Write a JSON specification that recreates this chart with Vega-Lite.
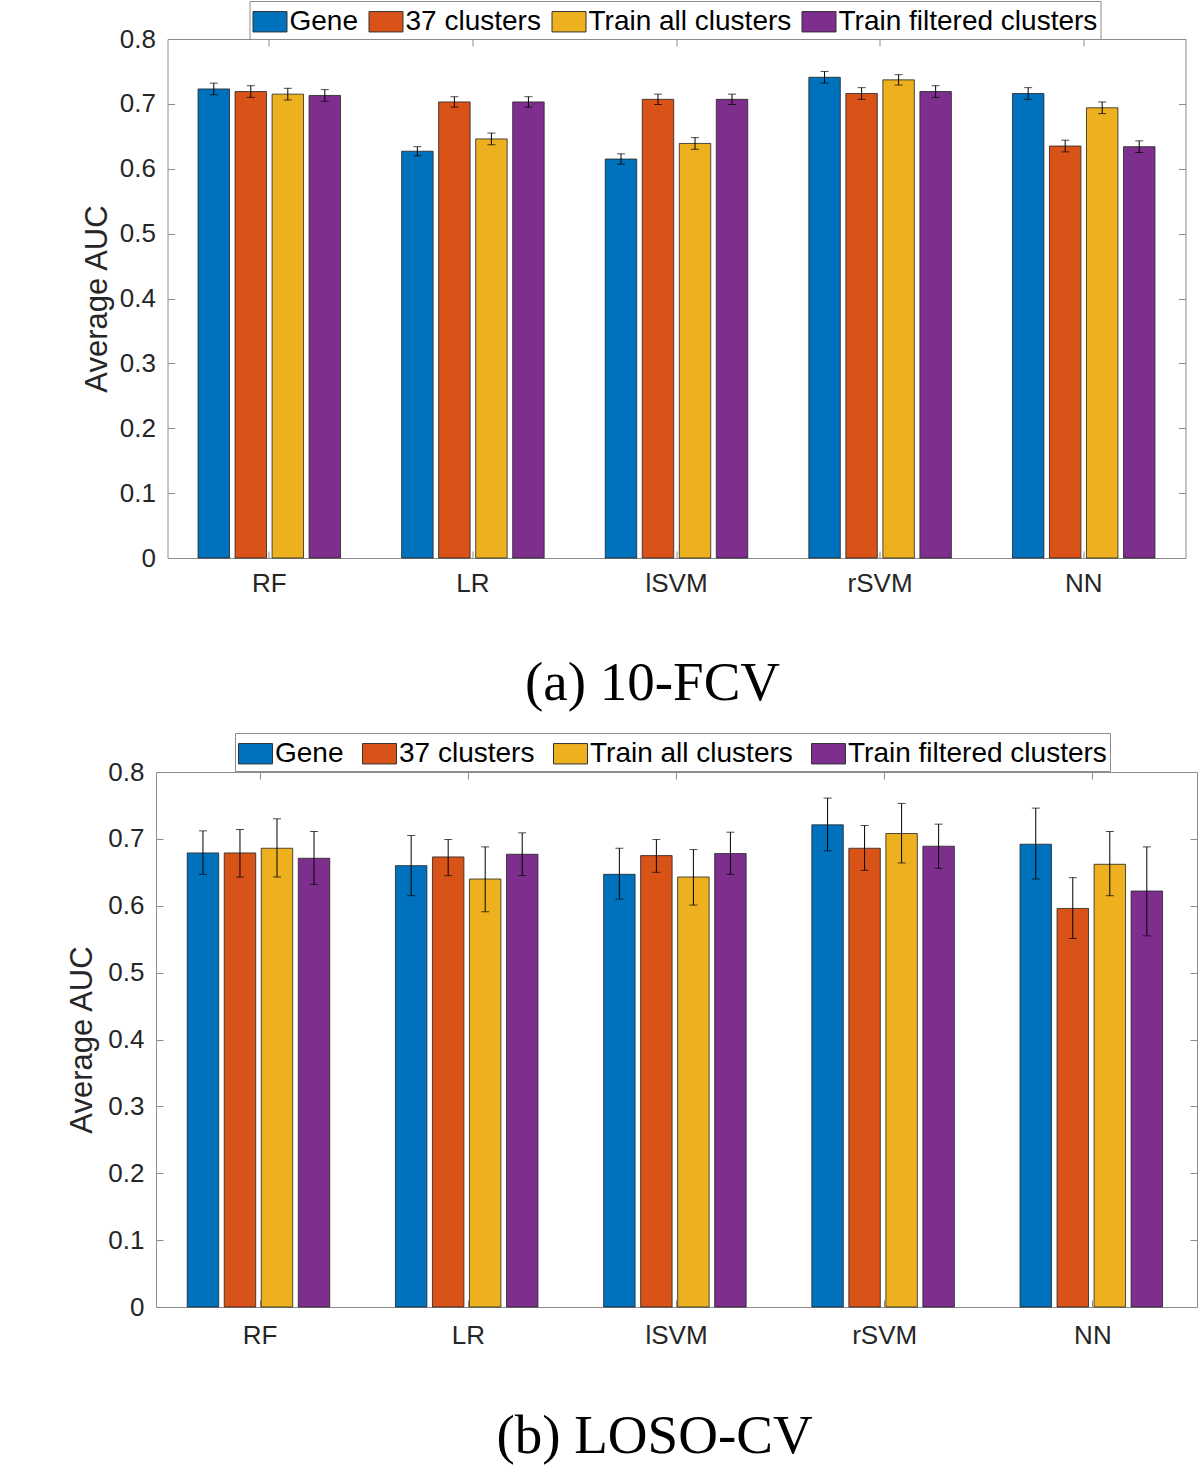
{
  "$schema": "https://vega.github.io/schema/vega-lite/v6.json",
  "padding": {"left": 66, "top": 0, "right": 0, "bottom": 0},
  "background": "white",
  "center": true,
  "spacing": 20,
  "resolve": {"scale": {"color": "independent"}, "legend": {"color": "independent"}},
  "datasets": {
    "fcv": [
      {"model": "RF", "method": "Gene", "auc": 0.723, "lo": 0.714, "hi": 0.732},
      {"model": "RF", "method": "37 clusters", "auc": 0.719, "lo": 0.710, "hi": 0.728},
      {"model": "RF", "method": "Train all clusters", "auc": 0.715, "lo": 0.706, "hi": 0.724},
      {"model": "RF", "method": "Train filtered clusters", "auc": 0.713, "lo": 0.704, "hi": 0.722},
      {"model": "LR", "method": "Gene", "auc": 0.627, "lo": 0.620, "hi": 0.634},
      {"model": "LR", "method": "37 clusters", "auc": 0.703, "lo": 0.695, "hi": 0.711},
      {"model": "LR", "method": "Train all clusters", "auc": 0.646, "lo": 0.637, "hi": 0.655},
      {"model": "LR", "method": "Train filtered clusters", "auc": 0.703, "lo": 0.695, "hi": 0.711},
      {"model": "lSVM", "method": "Gene", "auc": 0.615, "lo": 0.607, "hi": 0.623},
      {"model": "lSVM", "method": "37 clusters", "auc": 0.707, "lo": 0.699, "hi": 0.715},
      {"model": "lSVM", "method": "Train all clusters", "auc": 0.639, "lo": 0.630, "hi": 0.648},
      {"model": "lSVM", "method": "Train filtered clusters", "auc": 0.707, "lo": 0.699, "hi": 0.715},
      {"model": "rSVM", "method": "Gene", "auc": 0.741, "lo": 0.732, "hi": 0.750},
      {"model": "rSVM", "method": "37 clusters", "auc": 0.716, "lo": 0.707, "hi": 0.725},
      {"model": "rSVM", "method": "Train all clusters", "auc": 0.737, "lo": 0.729, "hi": 0.745},
      {"model": "rSVM", "method": "Train filtered clusters", "auc": 0.719, "lo": 0.710, "hi": 0.728},
      {"model": "NN", "method": "Gene", "auc": 0.716, "lo": 0.707, "hi": 0.725},
      {"model": "NN", "method": "37 clusters", "auc": 0.635, "lo": 0.626, "hi": 0.644},
      {"model": "NN", "method": "Train all clusters", "auc": 0.694, "lo": 0.685, "hi": 0.703},
      {"model": "NN", "method": "Train filtered clusters", "auc": 0.634, "lo": 0.625, "hi": 0.643}
    ],
    "loso": [
      {"model": "RF", "method": "Gene", "auc": 0.679, "lo": 0.647, "hi": 0.712},
      {"model": "RF", "method": "37 clusters", "auc": 0.679, "lo": 0.643, "hi": 0.714},
      {"model": "RF", "method": "Train all clusters", "auc": 0.686, "lo": 0.643, "hi": 0.730},
      {"model": "RF", "method": "Train filtered clusters", "auc": 0.671, "lo": 0.632, "hi": 0.711},
      {"model": "LR", "method": "Gene", "auc": 0.660, "lo": 0.615, "hi": 0.705},
      {"model": "LR", "method": "37 clusters", "auc": 0.673, "lo": 0.645, "hi": 0.699},
      {"model": "LR", "method": "Train all clusters", "auc": 0.640, "lo": 0.591, "hi": 0.688},
      {"model": "LR", "method": "Train filtered clusters", "auc": 0.677, "lo": 0.645, "hi": 0.709},
      {"model": "lSVM", "method": "Gene", "auc": 0.647, "lo": 0.610, "hi": 0.686},
      {"model": "lSVM", "method": "37 clusters", "auc": 0.675, "lo": 0.650, "hi": 0.699},
      {"model": "lSVM", "method": "Train all clusters", "auc": 0.643, "lo": 0.601, "hi": 0.684},
      {"model": "lSVM", "method": "Train filtered clusters", "auc": 0.678, "lo": 0.647, "hi": 0.710},
      {"model": "rSVM", "method": "Gene", "auc": 0.721, "lo": 0.682, "hi": 0.761},
      {"model": "rSVM", "method": "37 clusters", "auc": 0.686, "lo": 0.653, "hi": 0.720},
      {"model": "rSVM", "method": "Train all clusters", "auc": 0.708, "lo": 0.664, "hi": 0.753},
      {"model": "rSVM", "method": "Train filtered clusters", "auc": 0.689, "lo": 0.656, "hi": 0.722},
      {"model": "NN", "method": "Gene", "auc": 0.692, "lo": 0.640, "hi": 0.746},
      {"model": "NN", "method": "37 clusters", "auc": 0.596, "lo": 0.551, "hi": 0.642},
      {"model": "NN", "method": "Train all clusters", "auc": 0.662, "lo": 0.615, "hi": 0.711},
      {"model": "NN", "method": "Train filtered clusters", "auc": 0.622, "lo": 0.555, "hi": 0.688}
    ]
  },
  "config": {
    "font": "Liberation Sans",
    "view": {"stroke": "#8c8c8c", "strokeWidth": 1},
    "axis": {
      "labelFont": "Liberation Sans", "labelFontSize": 26, "labelColor": "#262626",
      "titleFont": "Liberation Sans", "titleFontSize": 31, "titleFontWeight": "normal", "titleColor": "#262626",
      "domain": false, "grid": false, "tickColor": "#8c8c8c", "tickSize": -7, "tickWidth": 1
    },
    "legend": {
      "orient": "none", "direction": "horizontal", "columns": 4,
      "labelFont": "Liberation Sans", "labelFontSize": 28, "labelColor": "#000",
      "labelLimit": 400, "labelOffset": 2, "columnPadding": 8,
      "symbolType": "M-1,-0.6H1V0.6H-1Z", "symbolSize": 1156,
      "symbolStrokeColor": "#333", "symbolStrokeWidth": 1, "symbolOpacity": 1,
      "padding": 3, "strokeColor": "#8c8c8c", "fillColor": "white"
    },
    "title": {"font": "Liberation Serif", "fontSize": 55, "fontWeight": "normal", "color": "#000", "orient": "bottom", "anchor": "middle"}
  },
  "vconcat": [
    {
      "width": 1018, "height": 519,
      "data": {"name": "fcv"},
      "title": {"text": "(a) 10-FCV", "offset": 61, "dx": -24},
      "layer": [
        {
          "mark": {"type": "bar", "stroke": "#222", "strokeWidth": 0.8},
          "encoding": {
            "x": {"field": "model", "type": "nominal", "sort": ["RF", "LR", "lSVM", "rSVM", "NN"], "scale": {"paddingInner": 0.3, "paddingOuter": 0.15}, "axis": {"title": null, "labelAngle": 0, "labelPadding": 19, "orient": "bottom"}},
            "xOffset": {"field": "method", "type": "nominal", "sort": ["Gene", "37 clusters", "Train all clusters", "Train filtered clusters"], "scale": {"paddingInner": 0.15, "paddingOuter": 0}},
            "y": {"field": "auc", "type": "quantitative", "scale": {"domain": [0, 0.8], "nice": false}, "axis": {"title": "Average AUC", "values": [0, 0.1, 0.2, 0.3, 0.4, 0.5, 0.6, 0.7, 0.8], "labelExpr": "datum.value == 0 ? '0' : format(datum.value, '.1f')", "labelPadding": 19, "titlePadding": 6}},
            "color": {"field": "method", "type": "nominal", "sort": ["Gene", "37 clusters", "Train all clusters", "Train filtered clusters"], "scale": {"domain": ["Gene", "37 clusters", "Train all clusters", "Train filtered clusters"], "range": ["#0072BD", "#D95319", "#EDB120", "#7E2F8E"]}, "legend": {"title": null, "legendX": 82, "legendY": -38}}
          }
        },
        {
          "mark": {"type": "rule", "color": "#000", "strokeWidth": 1},
          "encoding": {
            "x": {"field": "model", "type": "nominal", "sort": ["RF", "LR", "lSVM", "rSVM", "NN"], "axis": {"orient": "top", "labels": false, "title": null}},
            "xOffset": {"field": "method", "type": "nominal", "sort": ["Gene", "37 clusters", "Train all clusters", "Train filtered clusters"]},
            "y": {"field": "lo", "type": "quantitative", "axis": {"orient": "right", "labels": false, "title": null, "values": [0, 0.1, 0.2, 0.3, 0.4, 0.5, 0.6, 0.7, 0.8]}},
            "y2": {"field": "hi"}
          }
        },
        {
          "mark": {"type": "tick", "color": "#000", "size": 8, "thickness": 1},
          "encoding": {
            "x": {"field": "model", "type": "nominal", "sort": ["RF", "LR", "lSVM", "rSVM", "NN"], "axis": null},
            "xOffset": {"field": "method", "type": "nominal", "sort": ["Gene", "37 clusters", "Train all clusters", "Train filtered clusters"]},
            "y": {"field": "lo", "type": "quantitative", "axis": null}
          }
        },
        {
          "mark": {"type": "tick", "color": "#000", "size": 8, "thickness": 1},
          "encoding": {
            "x": {"field": "model", "type": "nominal", "sort": ["RF", "LR", "lSVM", "rSVM", "NN"], "axis": null},
            "xOffset": {"field": "method", "type": "nominal", "sort": ["Gene", "37 clusters", "Train all clusters", "Train filtered clusters"]},
            "y": {"field": "hi", "type": "quantitative", "axis": null}
          }
        }
      ],
      "resolve": {"axis": {"x": "independent", "y": "independent"}}
    },
    {
      "width": 1041, "height": 535,
      "data": {"name": "loso"},
      "title": {"text": "(b) LOSO-CV", "offset": 62, "dx": -22},
      "layer": [
        {
          "mark": {"type": "bar", "stroke": "#222", "strokeWidth": 0.8},
          "encoding": {
            "x": {"field": "model", "type": "nominal", "sort": ["RF", "LR", "lSVM", "rSVM", "NN"], "scale": {"paddingInner": 0.3, "paddingOuter": 0.15}, "axis": {"title": null, "labelAngle": 0, "labelPadding": 22, "orient": "bottom"}},
            "xOffset": {"field": "method", "type": "nominal", "sort": ["Gene", "37 clusters", "Train all clusters", "Train filtered clusters"], "scale": {"paddingInner": 0.15, "paddingOuter": 0}},
            "y": {"field": "auc", "type": "quantitative", "scale": {"domain": [0, 0.8], "nice": false}, "axis": {"title": "Average AUC", "values": [0, 0.1, 0.2, 0.3, 0.4, 0.5, 0.6, 0.7, 0.8], "labelExpr": "datum.value == 0 ? '0' : format(datum.value, '.1f')", "labelPadding": 19, "titlePadding": 9}},
            "color": {"field": "method", "type": "nominal", "sort": ["Gene", "37 clusters", "Train all clusters", "Train filtered clusters"], "scale": {"domain": ["Gene", "37 clusters", "Train all clusters", "Train filtered clusters"], "range": ["#0072BD", "#D95319", "#EDB120", "#7E2F8E"]}, "legend": {"title": null, "legendX": 79, "legendY": -39, "columnPadding": 16}}
          }
        },
        {
          "mark": {"type": "rule", "color": "#000", "strokeWidth": 1},
          "encoding": {
            "x": {"field": "model", "type": "nominal", "sort": ["RF", "LR", "lSVM", "rSVM", "NN"], "axis": {"orient": "top", "labels": false, "title": null}},
            "xOffset": {"field": "method", "type": "nominal", "sort": ["Gene", "37 clusters", "Train all clusters", "Train filtered clusters"]},
            "y": {"field": "lo", "type": "quantitative", "axis": {"orient": "right", "labels": false, "title": null, "values": [0, 0.1, 0.2, 0.3, 0.4, 0.5, 0.6, 0.7, 0.8]}},
            "y2": {"field": "hi"}
          }
        },
        {
          "mark": {"type": "tick", "color": "#000", "size": 8, "thickness": 1},
          "encoding": {
            "x": {"field": "model", "type": "nominal", "sort": ["RF", "LR", "lSVM", "rSVM", "NN"], "axis": null},
            "xOffset": {"field": "method", "type": "nominal", "sort": ["Gene", "37 clusters", "Train all clusters", "Train filtered clusters"]},
            "y": {"field": "lo", "type": "quantitative", "axis": null}
          }
        },
        {
          "mark": {"type": "tick", "color": "#000", "size": 8, "thickness": 1},
          "encoding": {
            "x": {"field": "model", "type": "nominal", "sort": ["RF", "LR", "lSVM", "rSVM", "NN"], "axis": null},
            "xOffset": {"field": "method", "type": "nominal", "sort": ["Gene", "37 clusters", "Train all clusters", "Train filtered clusters"]},
            "y": {"field": "hi", "type": "quantitative", "axis": null}
          }
        }
      ],
      "resolve": {"axis": {"x": "independent", "y": "independent"}}
    }
  ]
}
